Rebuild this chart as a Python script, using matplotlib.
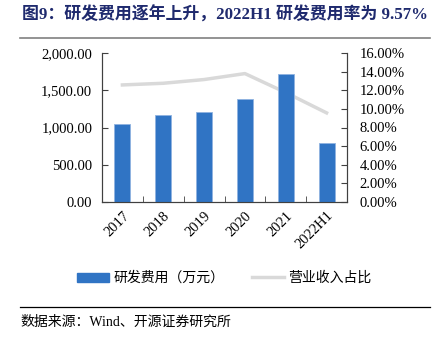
import matplotlib
matplotlib.use("Agg")
import matplotlib.pyplot as plt
import numpy as np
from matplotlib.ticker import FuncFormatter, MultipleLocator
from matplotlib.lines import Line2D
from matplotlib.patches import Patch

categories = ["2017", "2018", "2019", "2020", "2021", "2022H1"]
rd_expense = [1045, 1174, 1205, 1379, 1723, 786]
rd_ratio = [12.57, 12.75, 13.15, 13.79, 11.75, 9.57]

title = "图9：研发费用逐年上升，2022H1 研发费用率为 9.57%"
source = "数据来源：Wind、开源证券研究所"
bar_label = "研发费用（万元）"
line_label = "营业收入占比"

cjk = ["Noto Sans CJK SC", "DejaVu Sans"]
serif_cjk = ["Liberation Serif", "Noto Sans CJK SC"]
serif = ["Liberation Serif", "DejaVu Serif"]

fig = plt.figure(figsize=(4.44, 3.37), dpi=100)
ax = fig.add_axes([102/444, 1 - 202/337, 245/444, 149/337])
ax2 = ax.twinx()

x = np.arange(len(categories))
bar_color = "#3074C4"
ax.bar(x, rd_expense, width=0.39, color=bar_color, edgecolor="#8FB3E0", linewidth=0.6, zorder=2)
ax2.plot(x, rd_ratio, color="#D9D9D9", linewidth=2.5, zorder=1)
ax.set_zorder(ax2.get_zorder() + 1)
ax.patch.set_visible(False)

ax.set_xlim(-0.5, len(categories) - 0.5)
ax.set_ylim(0, 2000)
ax2.set_ylim(0, 16)
ax.yaxis.set_major_locator(MultipleLocator(500))
ax2.yaxis.set_major_locator(MultipleLocator(2))
ax.yaxis.set_major_formatter(FuncFormatter(lambda v, p: f"{v:,.2f}"))
ax2.yaxis.set_major_formatter(FuncFormatter(lambda v, p: f"{v:.2f}%"))

ax.set_xticks(x)
ax.set_xticklabels(categories, rotation=45, ha="right", rotation_mode="anchor",
                   fontfamily=serif, fontsize=10.5)
ax.set_xticks(np.arange(len(categories) + 1) - 0.5, minor=True)
ax.tick_params(axis="x", which="major", length=0, pad=5)
ax.tick_params(axis="x", which="minor", direction="in", length=4, color="#404040")
ax.tick_params(axis="y", direction="in", length=4, color="#404040", pad=7)
ax2.tick_params(axis="y", direction="in", length=4, color="#404040", pad=9)
for lab in ax.get_yticklabels() + ax2.get_yticklabels():
    lab.set_fontfamily(serif)
    lab.set_fontsize(10.5)

for a in (ax, ax2):
    a.spines["top"].set_visible(False)
    for s in ("left", "right", "bottom"):
        a.spines[s].set_color("#404040")
        a.spines[s].set_linewidth(0.8)

# Title
fig.text(22/444, 1 - 15/337, title, fontsize=12.2, fontweight="bold", color="#1F2A6E",
         fontfamily=serif_cjk, va="center", ha="left")
fig.add_artist(Line2D([20/444, 430/444], [1 - 38/337, 1 - 38/337], color="#808080", linewidth=1.2))

# Legend
handles = [Patch(facecolor=bar_color, edgecolor=bar_color),
           Line2D([0], [0], color="#D9D9D9", linewidth=2.5)]
leg = fig.legend(handles, [bar_label, line_label], loc="center", bbox_to_anchor=(0.505, 1 - 278/337),
                 ncol=2, frameon=False, prop={"family": cjk, "size": 10},
                 handlelength=2.3, handleheight=0.6, columnspacing=2.0, handletextpad=0.3)

fig.add_artist(Line2D([20/444, 430/444], [1 - 307/337, 1 - 307/337], color="#000000", linewidth=0.9))
fig.text(20/444, 1 - 322/337, source, fontsize=10, fontfamily=serif_cjk, va="center", ha="left", color="#000000")

fig.savefig("out.png", dpi=100)
